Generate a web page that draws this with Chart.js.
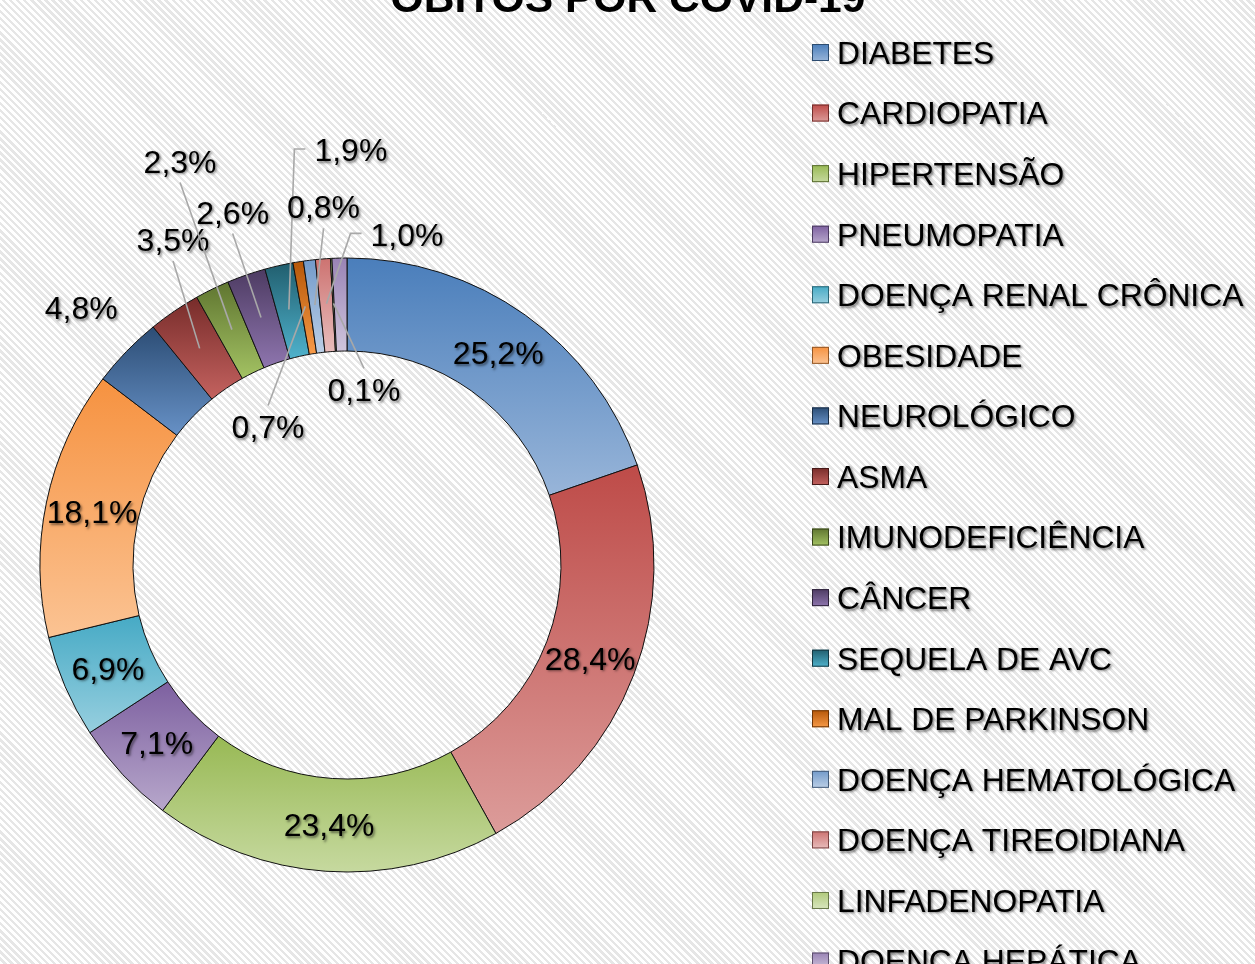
<!DOCTYPE html>
<html><head><meta charset="utf-8">
<script src="https://cdn.jsdelivr.net/npm/chart.js@4.4.0/dist/chart.umd.min.js"></script>
<style>
html,body{margin:0;padding:0;width:1255px;height:964px;overflow:hidden;}
body{background:repeating-linear-gradient(45deg,#ffffff 0px,#ffffff 2.6px,#e6e6e6 2.6px,#e6e6e6 5px);}
canvas{position:absolute;left:0;top:0;}
</style></head><body>
<canvas id="c" width="1255" height="964"></canvas>
<script>
// ---- data ----
const chartTitle = 'ÓBITOS POR COVID-19';
const categories = ['DIABETES','CARDIOPATIA','HIPERTENSÃO','PNEUMOPATIA','DOENÇA RENAL CRÔNICA','OBESIDADE','NEUROLÓGICO','ASMA','IMUNODEFICIÊNCIA','CÂNCER','SEQUELA DE AVC','MAL DE PARKINSON','DOENÇA HEMATOLÓGICA','DOENÇA TIREOIDIANA','LINFADENOPATIA','DOENÇA HEPÁTICA'];
const percentages = [25.2, 28.4, 23.4, 7.1, 6.9, 18.1, 4.8, 3.5, 2.3, 2.6, 1.9, 0.7, 0.8, 1.0, 0.1, 1.0];

// ---- styles ----
const sliceColors = [
  ['#4A7EBB','#98B5D9'], ['#BE4B48','#DC9C9A'], ['#98B954','#C6D99F'], ['#7D60A0','#B7A7CB'],
  ['#46AAC5','#97CFDF'], ['#F69240','#FBC393'], ['#2C4D75','#6791C6'], ['#772C2A','#C4625F'],
  ['#5F7530','#A3C263'], ['#4D3B62','#8E75AE'], ['#215E6E','#4FB2CC'], ['#B65708','#F79A48'],
  ['#729ACA','#BCCFE6'], ['#CD7371','#E8BDBC'], ['#AFC97A','#D9E6BF'], ['#9983B5','#CFC5DC']
];
// label placement: null = centred in ring; r = radius px, da = angle shift (deg), lead = leader attach side
const labelPlacement = [
  null, null, null, null, null, null,
  {r:370, da:0},
  {r:369, da:6.1, lead:'b'},
  {r:437, da:3.6, lead:'b'},
  {r:371, da:1.2, lead:'b'},
  {r:415, da:13.35, lead:'l'},
  {r:159, da:-20.6, lead:'t'},
  {r:359, da:3.3, lead:'b'},
  {r:336, da:14.8, lead:'l'},
  {r:176, da:8.5, lead:'t'},
  {hide:true}
];
const FONT = '"Liberation Sans", Arial, sans-serif';

function shade(hex, f){
  const n = parseInt(hex.slice(1),16);
  const r=(n>>16)&255, g=(n>>8)&255, b=n&255;
  return 'rgb(' + Math.round(r*f) + ',' + Math.round(g*f) + ',' + Math.round(b*f) + ')';
}
function fmt(v){ return v.toFixed(1).replace('.', ',') + '%'; }
function setShadow(ctx){ ctx.shadowColor='rgba(0,0,0,0.5)'; ctx.shadowOffsetX=1.5; ctx.shadowOffsetY=1.5; ctx.shadowBlur=2.5; }
function clearShadow(ctx){ ctx.shadowColor='rgba(0,0,0,0)'; ctx.shadowOffsetX=0; ctx.shadowOffsetY=0; ctx.shadowBlur=0; }

const gradientPlugin = {
  id:'sliceGradient',
  beforeDatasetsDraw(chart){
    const ctx = chart.ctx;
    chart.getDatasetMeta(0).data.forEach((el,i)=>{
      const p = el.getProps(['x','y','startAngle','endAngle','innerRadius','outerRadius'], true);
      let minY=Infinity, maxY=-Infinity;
      const n=60;
      for(let k=0;k<=n;k++){
        const a = p.startAngle + (p.endAngle-p.startAngle)*k/n;
        [p.innerRadius, p.outerRadius].forEach(r=>{
          const py = p.y + r*Math.sin(a);
          if(py<minY) minY=py; if(py>maxY) maxY=py;
        });
      }
      if (maxY - minY < 1) maxY = minY + 1;
      const g = ctx.createLinearGradient(0,minY,0,maxY);
      g.addColorStop(0, sliceColors[i][0]);
      g.addColorStop(1, sliceColors[i][1]);
      el.options = Object.assign({}, el.options, {backgroundColor:g});
    });
  }
};

const decorPlugin = {
  id:'decor',
  afterDraw(chart){
    const ctx = chart.ctx;
    const meta = chart.getDatasetMeta(0);
    const values = chart.data.datasets[0].data;
    ctx.save();
    // data labels
    const fs = 32;
    ctx.font = fs + 'px ' + FONT;
    ctx.textAlign = 'center';
    ctx.textBaseline = 'alphabetic';
    meta.data.forEach((el,i)=>{
      const pl = labelPlacement[i];
      if (pl && pl.hide) return;
      const p = el.getProps(['x','y','startAngle','endAngle','innerRadius','outerRadius'], true);
      const mid = (p.startAngle + p.endAngle)/2;
      const rMid = (p.innerRadius + p.outerRadius)/2;
      let a = mid, r = rMid;
      if (pl){ a = mid + (pl.da||0)*Math.PI/180; r = pl.r; }
      const lx = p.x + r*Math.cos(a), ly = p.y + r*Math.sin(a);
      const txt = fmt(values[i]);
      const w = ctx.measureText(txt).width;
      const hh = 0.358*fs;
      if (pl && pl.lead){
        const tx = p.x + (rMid+1.5)*Math.cos(mid), ty = p.y + (rMid+1.5)*Math.sin(mid);
        clearShadow(ctx);
        ctx.strokeStyle = '#a8a8a8';
        ctx.lineWidth = 1.6;
        ctx.beginPath();
        if (pl.lead==='b'){ ctx.moveTo(lx, ly+hh+10); ctx.lineTo(tx,ty); }
        else if (pl.lead==='t'){ ctx.moveTo(lx, ly-hh-10); ctx.lineTo(tx,ty); }
        else if (pl.lead==='l'){ ctx.moveTo(lx-w/2-9, ly-1); ctx.lineTo(lx-w/2-20, ly-1); ctx.lineTo(tx,ty); }
        ctx.stroke();
      }
      setShadow(ctx);
      ctx.fillStyle = '#000';
      ctx.fillText(txt, lx, ly + hh);
    });
    // legend
    const lf = 31.8, y0 = 52.5, step = 60.57;
    ctx.font = lf + 'px ' + FONT;
    ctx.textAlign = 'left';
    chart.data.labels.forEach((lab,i)=>{
      const cy = y0 + i*step;
      clearShadow(ctx);
      const g = ctx.createLinearGradient(0, cy-8.5, 0, cy+8.5);
      g.addColorStop(0, sliceColors[i][0]);
      g.addColorStop(1, sliceColors[i][1]);
      ctx.fillStyle = g;
      ctx.fillRect(812, cy-8.5, 17, 17);
      ctx.strokeStyle = shade(sliceColors[i][0], 0.6);
      ctx.lineWidth = 1;
      ctx.strokeRect(812.5, cy-8, 16, 16);
      setShadow(ctx);
      ctx.fillStyle = '#000';
      ctx.fillText(lab, 837, cy + 0.358*lf);
    });
    // title
    clearShadow(ctx);
    ctx.font = 'bold 42.6px ' + FONT;
    ctx.textAlign = 'center';
    ctx.fillStyle = '#000';
    ctx.fillText(chartTitle, 628, 12);
    ctx.restore();
  }
};

new Chart(document.getElementById('c'), {
  type:'doughnut',
  data:{
    labels: categories,
    datasets:[{
      data: percentages,
      backgroundColor: sliceColors.map(c=>c[0]),
      borderColor:'#111111',
      borderWidth:1,
      radius:307,
      cutout:'69.7%',
      hoverOffset:0
    }]
  },
  options:{
    responsive:false,
    animation:false,
    events:[],
    layout:{padding:{left:0, right:561, top:166, bottom:0}},
    plugins:{legend:{display:false}, tooltip:{enabled:false}, title:{display:false}}
  },
  plugins:[gradientPlugin, decorPlugin]
});
</script>
</body></html>
